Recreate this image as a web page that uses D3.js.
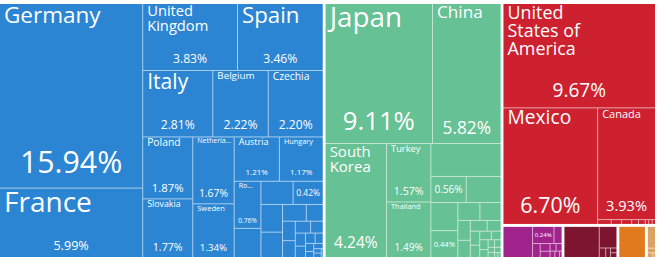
<!DOCTYPE html>
<html><head><meta charset="utf-8">
<script src="https://cdn.jsdelivr.net/npm/d3@7/dist/d3.min.js"></script>
<style>html,body{margin:0;padding:0;background:#fff;}svg{display:block;font-family:"Open Sans",sans-serif;}</style>
</head><body><svg id="c" width="660" height="260"></svg>
<script>
// ---- data (share of exports, %) ----
const continents = ["Europe", "Asia", "North America", "Africa", "South America", "Oceania", "Other"];

const europeNames = ["Germany","France","United Kingdom","Spain","Italy","Belgium","Czechia","Poland","Slovakia","Netherlands","Sweden","Austria","Hungary","Romania","","","Portugal","","","","","","","","","","","","","","","","","",""];
const europeValues = [15.94,5.99,3.83,3.46,2.81,2.22,2.20,1.87,1.77,1.67,1.34,1.21,1.17,0.76,0.47,0.45,0.42,0.36,0.33,0.24,0.17,0.15,0.13,0.11,0.09,0.08,0.07,0.06,0.05,0.04,0.03,0.03,0.02,0.02,0.01,0.01];

const asiaNames = ["Japan","China","South Korea","Turkey","Thailand","","Taiwan","","","Israel","","","","","","","","","","","","","","","","","","",""];
const asiaValues = [9.11,5.82,4.24,1.57,1.49,1.40,0.56,0.55,0.46,0.44,0.24,0.23,0.15,0.13,0.11,0.09,0.08,0.07,0.06,0.05,0.05,0.04,0.03,0.03,0.02,0.02,0.02,0.01,0.01];

const northAmericaNames = ["United States of America","Mexico","Canada","","","","","","","",""];
const northAmericaValues = [9.67,6.70,3.93,0.04,0.03,0.03,0.02,0.02,0.01,0.01,0.01];

const africaNames = ["","Morocco","","","","","","","","",""];
const africaValues = [0.60,0.24,0.09,0.07,0.05,0.04,0.03,0.03,0.02,0.02,0.01];

const southAmericaNames = ["","","","","",""];
const southAmericaValues = [0.72,0.25,0.04,0.03,0.02,0.02];

const oceaniaNames = [""];
const oceaniaValues = [0.56];

const otherNames = ["","","",""];
const otherValues = [0.14,0.03,0.02,0.01];

// ---- styles ----
const continentColors = {
  "Europe": "#2b85d3",
  "Asia": "#66c194",
  "North America": "#cd2130",
  "Africa": "#a1238c",
  "South America": "#7e1530",
  "Oceania": "#df7a1e",
  "Other": "#dba266"
};

const groups = [
  [europeNames, europeValues], [asiaNames, asiaValues], [northAmericaNames, northAmericaValues],
  [africaNames, africaValues], [southAmericaNames, southAmericaValues], [oceaniaNames, oceaniaValues],
  [otherNames, otherValues]
].map(([names, values], gi) => ({
  name: continents[gi],
  children: names.map((n, i) => ({ name: n, value: values[i], continent: continents[gi] }))
}));

const W = 655, H = 253, TOP = 4;
const svg = d3.select("#c");

const root = d3.hierarchy({ children: groups })
  .sum(d => d.value || 0)
  .sort((a, b) => b.value - a.value);

d3.treemap()
  .size([W, H])
  .tile(d3.treemapSquarify.ratio(0.985))
  .paddingInner(d => d.depth === 0 ? 3 : 1)(root);

svg.append("defs").append("clipPath").attr("id", "clip")
  .append("rect").attr("x", 0).attr("y", 0).attr("width", W).attr("height", H);

const g = svg.append("g").attr("transform", `translate(0,${TOP})`).attr("clip-path", "url(#clip)");

g.selectAll("rect.cont").data(root.children).join("rect")
  .attr("class", "cont")
  .attr("x", d => d.x0).attr("y", d => d.y0)
  .attr("width", d => d.x1 - d.x0).attr("height", d => d.y1 - d.y0)
  .attr("fill", d => d3.interpolateRgb(continentColors[d.data.name], "#ffffff")(0.6));

const leaves = root.leaves();
g.selectAll("rect.leaf").data(leaves).join("rect")
  .attr("class", "leaf")
  .attr("x", d => d.x0).attr("y", d => d.y0)
  .attr("width", d => Math.max(0, d.x1 - d.x0)).attr("height", d => Math.max(0, d.y1 - d.y0))
  .attr("fill", d => continentColors[d.data.continent]);

// ---- text fitting ----
const meas = svg.append("text").attr("font-size", 100).style("visibility", "hidden");
function em(s) { meas.text(s); return meas.node().getComputedTextLength() / 100; }

function wrapWords(words, fs, maxW) {
  const lines = []; let cur = "";
  for (const w of words) {
    const t = cur ? cur + " " + w : w;
    if (!cur || em(t) * fs <= maxW) cur = t; else { lines.push(cur); cur = w; }
  }
  if (cur) lines.push(cur);
  return lines;
}

function fitName(name, w, h) {
  const words = name.split(" ");
  const maxW = 0.68 * w;
  let fs = Math.min(28, 0.7 * Math.sqrt(w * h / name.length));
  fs = Math.min(fs, maxW / d3.max(words, em));
  let lines = wrapWords(words, fs, maxW);
  while (lines.length * fs > 0.55 * h && fs > 7) {
    fs -= 0.5; lines = wrapWords(words, fs, maxW);
  }
  if (fs < 7) {
    fs = 7;
    let s = name; const lim = w - 6;
    if (em(s) * fs > lim) {
      while (s.length > 1 && em(s + "…") * fs > lim) s = s.slice(0, -1);
      s = s + "…";
    }
    lines = [s];
  }
  return { fs, lines };
}

const fmt = v => v.toFixed(2) + "%";
const labels = g.append("g").attr("fill", "#ffffff");

leaves.forEach(d => {
  if (!d.data.name) return;
  const w = d.x1 - d.x0, h = d.y1 - d.y0;
  const share = fmt(d.data.value);
  const small = h < 30 || w < 22;
  const e = em(share);
  if (small) {
    const fs = Math.max(6, Math.min(0.82 * w / e, 0.55 * h));
    labels.append("text").attr("x", (d.x0 + d.x1) / 2).attr("y", (d.y0 + d.y1) / 2 + 0.36 * fs)
      .attr("text-anchor", "middle").attr("font-size", fs.toFixed(1)).text(share);
    return;
  }
  const nm = fitName(d.data.name, w, h);
  nm.lines.forEach((ln, i) => {
    labels.append("text").attr("font-size", nm.fs.toFixed(1))
      .attr("x", d.x0 + 4).attr("y", d.y0 + 0.84 * nm.fs + i * 1.02 * nm.fs).text(ln);
  });
  const sfs = Math.min(40, 0.185 * h, 0.72 * w / e);
  if (sfs >= 6.5) {
    labels.append("text").attr("x", (d.x0 + d.x1) / 2).attr("y", d.y1 - (0.42 * sfs + 2))
      .attr("text-anchor", "middle").attr("font-size", sfs.toFixed(1)).text(share);
  }
});
meas.remove();
</script></body></html>
